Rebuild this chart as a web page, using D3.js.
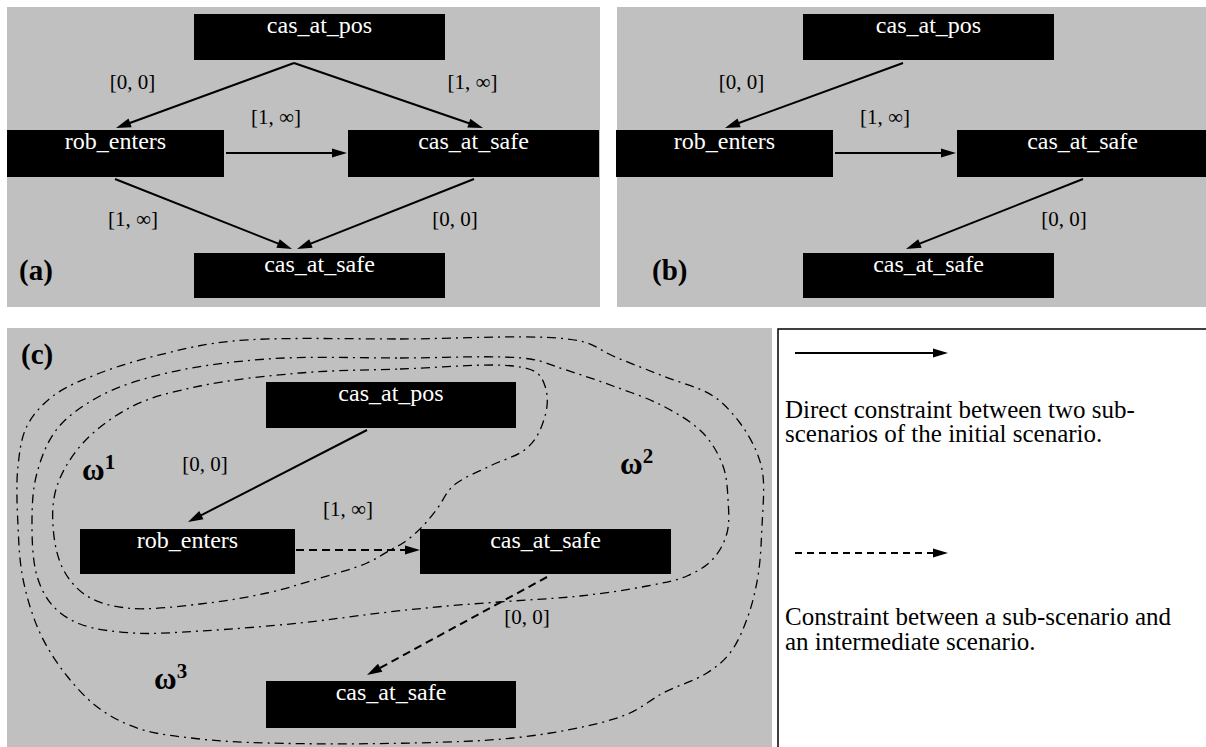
<!DOCTYPE html>
<html><head><meta charset="utf-8">
<script src="https://cdn.jsdelivr.net/npm/d3@7"></script>
<style>html,body{margin:0;padding:0;background:#fff;} svg{display:block}</style>
</head><body>
<svg id="fig" width="1206" height="747"></svg>
<script>
// ---------------- data ----------------
const nodeNames = ["cas_at_pos", "rob_enters", "cas_at_safe", "cas_at_safe"];
const panelLabels = ["(a)", "(b)", "(c)"];
const edgesA = [
  {from: 0, to: 1, label: "[0, 0]"},
  {from: 0, to: 2, label: "[1, ∞]"},
  {from: 1, to: 2, label: "[1, ∞]"},
  {from: 1, to: 3, label: "[1, ∞]"},
  {from: 2, to: 3, label: "[0, 0]"}
];
const edgesB = [
  {from: 0, to: 1, label: "[0, 0]"},
  {from: 1, to: 2, label: "[1, ∞]"},
  {from: 2, to: 3, label: "[0, 0]"}
];
const edgesC = [
  {from: 0, to: 1, label: "[0, 0]", kind: "direct"},
  {from: 1, to: 2, label: "[1, ∞]", kind: "intermediate"},
  {from: 2, to: 3, label: "[0, 0]", kind: "intermediate"}
];
const scenarioSymbols = ["ω", "ω", "ω"];
const scenarioIndex = ["1", "2", "3"];
const legendKinds = ["direct", "intermediate"];
const legendTexts = [
  ["Direct constraint between two sub-", "scenarios of the initial scenario."],
  ["Constraint between a sub-scenario and", "an intermediate scenario."]
];

// ---------------- layout (local panel units) ----------------
const layoutAB = {
  boxes: [
    {x0: 187, x1: 438, y0: 7, y1: 53},
    {x0: 0, x1: 217, y0: 123, y1: 170},
    {x0: 341, x1: 592, y0: 123, y1: 170},
    {x0: 187, x1: 438, y0: 246, y1: 291}
  ],
  edges: {
    "0-1": {p0: [287, 56], p1: [109, 121], lab: [125.5, 82]},
    "0-2": {p0: [287, 56], p1: [476, 121], lab: [465.5, 82]},
    "1-2": {p0: [219, 146], p1: [340, 146], lab: [269, 117]},
    "1-3": {p0: [108, 172], p1: [285, 242], lab: [126, 219]},
    "2-3": {p0: [467, 172], p1: [290, 242], lab: [448, 219]}
  }
};
const layoutC = {
  boxes: [
    {x0: 259, x1: 509, y0: 54, y1: 100},
    {x0: 73, x1: 288, y0: 201, y1: 246},
    {x0: 413, x1: 664, y0: 201, y1: 246},
    {x0: 259, x1: 509, y0: 353, y1: 400}
  ],
  edges: {
    "0-1": {p0: [360, 102], p1: [181, 194], lab: [198, 143]},
    "1-2": {p0: [289, 222], p1: [413, 222], lab: [341, 188]},
    "2-3": {p0: [540, 249], p1: [360, 347], lab: [520, 296]}
  },
  omega: [[75, 152], [613, 146], [147, 361]],
  regions: [
    [[293,45],[393,41],[506,38],[530,45],[538,58],[540,78],[530,108],[516,123],[483,138],[446,158],[430,181],[413,201],[396,215],[385,221],[360,235],[310,251],[260,265],[193,276],[120,280],[80,268],[56,241],[46,198],[50,158],[76,115],[126,78],[193,58]],
    [[260,31],[393,30],[523,31],[556,41],[606,58],[656,78],[696,105],[716,138],[721,171],[720,205],[706,231],[680,248],[640,258],[573,268],[506,273],[440,278],[373,285],[293,295],[193,303],[126,305],[73,296],[46,278],[30,248],[25,191],[30,145],[50,101],[93,68],[160,45]],
    [[226,13],[393,11],[573,13],[606,28],[656,48],[706,68],[733,95],[750,125],[756,148],[755,198],[751,248],[740,291],[723,325],[700,345],[656,365],[623,385],[580,398],[506,410],[406,415],[260,415],[193,411],[133,401],[93,381],[60,348],[33,305],[16,251],[11,198],[11,138],[20,98],[46,68],[93,45],[160,25]]
  ]
};
const panels = [
  {ox: 7, oy: 7, rect: [0, 0, 593, 300], label: [12, 273], layout: layoutAB, edges: edgesA},
  {ox: 616, oy: 7, rect: [1, 0, 590, 300], label: [36, 273], layout: layoutAB, edges: edgesB},
  {ox: 7, oy: 328, rect: [0, 0, 765, 419], label: [14, 36], layout: layoutC, edges: edgesC}
];
const legendBox = {ox: 778, oy: 329, w: 428, h: 418,
  arrows: [[[17, 24], [170, 24]], [[17, 224], [170, 224]]],
  text: [[7, 89, 113], [7, 296, 321]]};

const GRAY = "#c0c0c0";
const SERIF = "'Liberation Serif', 'Times New Roman', serif";

// ---------------- drawing ----------------
const svg = d3.select("#fig");

function drawArrow(g, sx, sy, p0, p1, dashed, dash) {
  const x0 = sx(p0[0]), y0 = sy(p0[1]), x1 = sx(p1[0]), y1 = sy(p1[1]);
  const L = Math.hypot(x1 - x0, y1 - y0), ux = (x1 - x0) / L, uy = (y1 - y0) / L;
  const hl = 15, hw = 4.6;
  const bx = x1 - ux * hl, by = y1 - uy * hl;
  g.append("line").attr("x1", x0).attr("y1", y0).attr("x2", bx + ux * 1).attr("y2", by + uy * 1)
    .attr("stroke", "#000").attr("stroke-width", 2)
    .attr("stroke-dasharray", dashed ? dash : null);
  g.append("path")
    .attr("d", d3.line()([[x1, y1], [bx - uy * hw, by + ux * hw], [bx + uy * hw, by - ux * hw]]) + "Z")
    .attr("fill", "#000");
}

panels.forEach((p, pi) => {
  const sx = d3.scaleLinear().domain([0, 1000]).range([p.ox, p.ox + 1000]);
  const sy = d3.scaleLinear().domain([0, 1000]).range([p.oy, p.oy + 1000]);
  const g = svg.append("g");
  const r = p.rect;
  g.append("rect").attr("x", sx(r[0])).attr("y", sy(r[1]))
    .attr("width", sx(r[0] + r[2]) - sx(r[0])).attr("height", sy(r[1] + r[3]) - sy(r[1]))
    .attr("fill", GRAY);
  const L = p.layout;

  // scenario regions (panel c)
  if (L.regions) {
    const line = d3.line().x(d => sx(d[0])).y(d => sy(d[1])).curve(d3.curveCatmullRomClosed.alpha(0.5));
    L.regions.forEach(pts => {
      g.append("path").attr("d", line(pts)).attr("fill", "none")
        .attr("stroke", "#000").attr("stroke-width", 1.3)
        .attr("stroke-dasharray", "9,5,2,5");
    });
  }

  // nodes
  nodeNames.forEach((name, i) => {
    const b = L.boxes[i];
    g.append("rect").attr("x", sx(b.x0)).attr("y", sy(b.y0))
      .attr("width", sx(b.x1) - sx(b.x0)).attr("height", sy(b.y1) - sy(b.y0)).attr("fill", "#000");
    g.append("text").attr("x", (sx(b.x0) + sx(b.x1)) / 2).attr("y", sy(b.y0) + 18.5)
      .attr("text-anchor", "middle").attr("fill", "#fff")
      .style("font-family", SERIF).style("font-size", "24px").text(name);
  });

  // edges
  p.edges.forEach(e => {
    const ge = L.edges[e.from + "-" + e.to];
    drawArrow(g, sx, sy, ge.p0, ge.p1, e.kind === "intermediate", "8,5");
    g.append("text").attr("x", sx(ge.lab[0])).attr("y", sy(ge.lab[1]))
      .attr("text-anchor", "middle").attr("fill", "#000")
      .style("font-family", SERIF).style("font-size", "21px").text(e.label);
  });

  // omega labels
  if (L.omega) {
    scenarioSymbols.forEach((s, i) => {
      const t = g.append("text").attr("x", sx(L.omega[i][0])).attr("y", sy(L.omega[i][1]))
        .style("font-family", SERIF).style("font-weight", "bold").style("font-size", "31px");
      t.append("tspan").text(s);
      t.append("tspan").attr("dy", -11).style("font-size", "21px").text(scenarioIndex[i]);
    });
  }

  // panel label
  g.append("text").attr("x", sx(p.label[0])).attr("y", sy(p.label[1]))
    .style("font-family", SERIF).style("font-weight", "bold").style("font-size", "29px")
    .text(panelLabels[pi]);
});

// legend (white area framed on its top and left sides)
{
  const lb = legendBox;
  const sx = d3.scaleLinear().domain([0, 1000]).range([lb.ox, lb.ox + 1000]);
  const sy = d3.scaleLinear().domain([0, 1000]).range([lb.oy, lb.oy + 1000]);
  const g = svg.append("g");
  g.append("rect").attr("x", sx(0)).attr("y", sy(0)).attr("width", sx(lb.w) - sx(0)).attr("height", sy(lb.h) - sy(0))
    .attr("fill", "#fff");
  g.append("path").attr("d", d3.line()([[sx(0), sy(lb.h)], [sx(0), sy(0)], [sx(lb.w), sy(0)]]))
    .attr("fill", "none").attr("stroke", "#000").attr("stroke-width", 1.5);
  legendKinds.forEach((k, i) => {
    const a = lb.arrows[i];
    drawArrow(g, sx, sy, a[0], a[1], k === "intermediate", "7,5");
    const tp = lb.text[i];
    legendTexts[i].forEach((line, j) => {
      g.append("text").attr("x", sx(tp[0])).attr("y", sy(tp[1 + j]))
        .style("font-family", SERIF).style("font-size", "25px").attr("fill", "#000").text(line);
    });
  });
}
</script>
</body></html>
